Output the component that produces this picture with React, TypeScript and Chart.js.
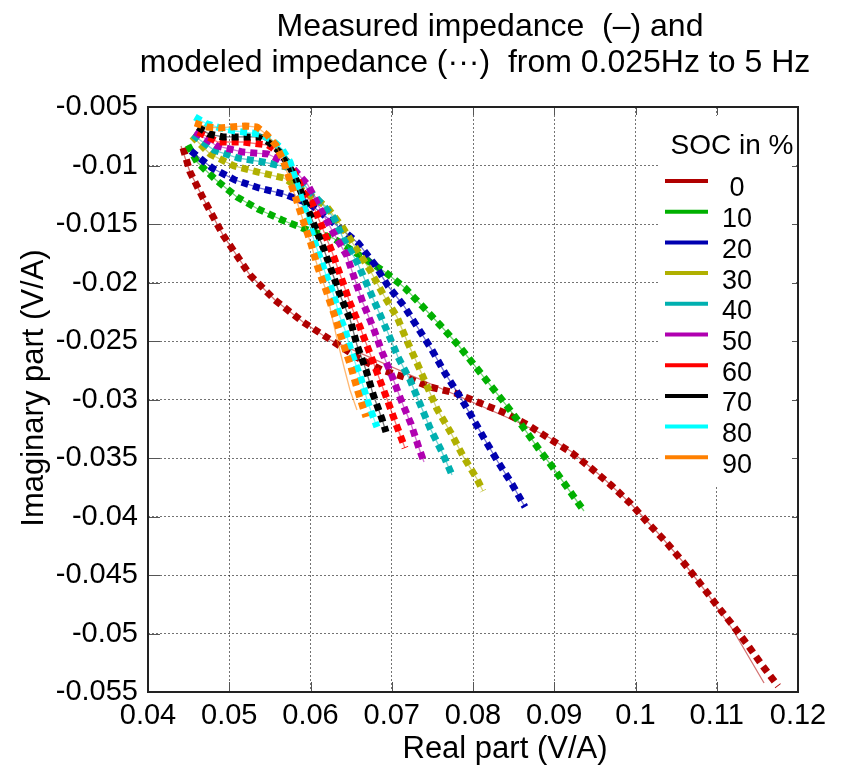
import React, { useEffect, useRef } from "react";
import { Chart, registerables } from "chart.js";

Chart.register(...registerables);

const FONT = '"Liberation Sans", Arial, sans-serif';

const titleLines = ["Measured impedance  (\u2013) and", "modeled impedance (\u00b7\u00b7\u00b7)  from 0.025Hz to 5 Hz"];
const xTitle = "Real part (V/A)";
const yTitle = "Imaginary part (V/A)";
const legendTitle = "SOC in %";

const socLabels = ["0", "10", "20", "30", "40", "50", "60", "70", "80", "90"];
const socColors = ["#B00000", "#00B000", "#0000B0", "#B0B000", "#00B0B0", "#B000B0", "#FF0000", "#000000", "#00FFFF", "#FF8000"];

const xTicks = [0.04, 0.05, 0.06, 0.07, 0.08, 0.09, 0.1, 0.11, 0.12];
const yTicks = [-0.055, -0.05, -0.045, -0.04, -0.035, -0.03, -0.025, -0.02, -0.015, -0.01, -0.005];

type P = [number, number];

const modeled0: P[] = [[0.04431,-0.00850],[0.04517,-0.01056],[0.04677,-0.01278],[0.04923,-0.01594],[0.05255,-0.01936],[0.05563,-0.02150],[0.05908,-0.02338],[0.06289,-0.02509],[0.06585,-0.02645],[0.06880,-0.02748],[0.07188,-0.02816],[0.07471,-0.02893],[0.07778,-0.02944],[0.08086,-0.03030],[0.08394,-0.03115],[0.08677,-0.03218],[0.08948,-0.03338],[0.09218,-0.03457],[0.09465,-0.03594],[0.09711,-0.03739],[0.09945,-0.03893],[0.10154,-0.04056],[0.10375,-0.04218],[0.10585,-0.04389],[0.10782,-0.04560],[0.10978,-0.04739],[0.11175,-0.04910],[0.11372,-0.05090],[0.11557,-0.05269],[0.11754,-0.05449]];
const measured0: P[] = [[0.04406,-0.00833],[0.04517,-0.01056],[0.04677,-0.01278],[0.04923,-0.01594],[0.05255,-0.01936],[0.05563,-0.02150],[0.05908,-0.02338],[0.06240,-0.02491],[0.08578,-0.03201],[0.08948,-0.03329],[0.09218,-0.03449],[0.09588,-0.03662],[0.09945,-0.03893],[0.10265,-0.04132],[0.10585,-0.04389],[0.10880,-0.04654],[0.11200,-0.04970],[0.11582,-0.05423]];
const modeled10: P[] = [[0.04492,-0.00825],[0.04603,-0.00970],[0.04837,-0.01124],[0.05095,-0.01269],[0.05354,-0.01372],[0.05649,-0.01466],[0.05932,-0.01543],[0.06277,-0.01620],[0.06486,-0.01714],[0.06708,-0.01816],[0.06917,-0.01910],[0.07163,-0.02047],[0.07385,-0.02209],[0.07606,-0.02372],[0.07828,-0.02543],[0.08025,-0.02714],[0.08222,-0.02885],[0.08418,-0.03056],[0.08615,-0.03235],[0.08800,-0.03415],[0.08997,-0.03594],[0.09182,-0.03774],[0.09366,-0.03953]];
const modeled20: P[] = [[0.04529,-0.00876],[0.04788,-0.01021],[0.05071,-0.01124],[0.05366,-0.01192],[0.05674,-0.01244],[0.05994,-0.01329],[0.06302,-0.01500],[0.06585,-0.01662],[0.06794,-0.01850],[0.06954,-0.02030],[0.07151,-0.02201],[0.07323,-0.02389],[0.07495,-0.02577],[0.07655,-0.02774],[0.07828,-0.02962],[0.07988,-0.03150],[0.08148,-0.03346],[0.08308,-0.03534],[0.08480,-0.03722],[0.08640,-0.03919]];
const modeled30: P[] = [[0.04542,-0.00748],[0.04763,-0.00902],[0.05058,-0.01004],[0.05354,-0.01056],[0.05674,-0.01107],[0.05932,-0.01226],[0.06203,-0.01355],[0.06400,-0.01534],[0.06572,-0.01722],[0.06732,-0.01893],[0.06892,-0.02098],[0.07065,-0.02295],[0.07188,-0.02500],[0.07311,-0.02688],[0.07434,-0.02885],[0.07557,-0.03081],[0.07729,-0.03286],[0.07877,-0.03483],[0.08049,-0.03679],[0.08123,-0.03782]];
const modeled40: P[] = [[0.04554,-0.00739],[0.04812,-0.00868],[0.05108,-0.00936],[0.05415,-0.00970],[0.05711,-0.01013],[0.05957,-0.01192],[0.06154,-0.01338],[0.06289,-0.01449],[0.06400,-0.01620],[0.06572,-0.01825],[0.06671,-0.01979],[0.06831,-0.02235],[0.06954,-0.02432],[0.07077,-0.02637],[0.07225,-0.02833],[0.07348,-0.03038],[0.07471,-0.03244],[0.07618,-0.03449],[0.07742,-0.03645]];
const modeled50: P[] = [[0.04578,-0.00714],[0.04849,-0.00833],[0.05169,-0.00885],[0.05477,-0.00902],[0.05748,-0.00996],[0.05969,-0.01167],[0.06092,-0.01338],[0.06277,-0.01568],[0.06449,-0.01774],[0.06548,-0.01979],[0.06646,-0.02175],[0.06769,-0.02380],[0.06880,-0.02594],[0.07003,-0.02799],[0.07114,-0.03004],[0.07237,-0.03209],[0.07335,-0.03415],[0.07397,-0.03534]];
const modeled60: P[] = [[0.04615,-0.00714],[0.04862,-0.00799],[0.05169,-0.00799],[0.05477,-0.00825],[0.05625,-0.00893],[0.05748,-0.00996],[0.05834,-0.01107],[0.05908,-0.01226],[0.06018,-0.01321],[0.06142,-0.01526],[0.06265,-0.01739],[0.06388,-0.01979],[0.06486,-0.02175],[0.06609,-0.02380],[0.06720,-0.02585],[0.06831,-0.02791],[0.06942,-0.02996],[0.07052,-0.03209],[0.07163,-0.03415]];
const modeled70: P[] = [[0.04615,-0.00671],[0.04751,-0.00731],[0.04923,-0.00756],[0.05231,-0.00756],[0.05378,-0.00756],[0.05502,-0.00808],[0.05625,-0.00885],[0.05723,-0.00987],[0.05809,-0.01098],[0.05908,-0.01269],[0.06031,-0.01483],[0.06154,-0.01697],[0.06265,-0.01910],[0.06363,-0.02107],[0.06486,-0.02312],[0.06572,-0.02534],[0.06683,-0.02748],[0.06769,-0.02953],[0.06880,-0.03167],[0.06929,-0.03278]];
const modeled80: P[] = [[0.04578,-0.00585],[0.04726,-0.00645],[0.04886,-0.00679],[0.05071,-0.00705],[0.05378,-0.00731],[0.05526,-0.00782],[0.05649,-0.00859],[0.05748,-0.00970],[0.05834,-0.01167],[0.05932,-0.01380],[0.06055,-0.01662],[0.06178,-0.01910],[0.06277,-0.02090],[0.06363,-0.02295],[0.06425,-0.02406],[0.06511,-0.02611],[0.06622,-0.02825],[0.06708,-0.03030],[0.06818,-0.03235]];
const modeled90: P[] = [[0.04578,-0.00637],[0.04726,-0.00671],[0.04874,-0.00679],[0.05194,-0.00662],[0.05342,-0.00671],[0.05465,-0.00739],[0.05575,-0.00825],[0.05662,-0.00953],[0.05785,-0.01209],[0.05908,-0.01466],[0.06006,-0.01671],[0.06092,-0.01876],[0.06203,-0.02090],[0.06302,-0.02295],[0.06400,-0.02517],[0.06498,-0.02722],[0.06585,-0.02936],[0.06683,-0.03150]];
const measured90: P[] = [[0.04578,-0.00637],[0.04726,-0.00671],[0.04874,-0.00679],[0.05194,-0.00662],[0.05342,-0.00671],[0.05465,-0.00739],[0.05575,-0.00825],[0.05662,-0.00953],[0.05785,-0.01209],[0.05908,-0.01466],[0.06006,-0.01671],[0.06092,-0.01876],[0.06203,-0.02090],[0.06265,-0.02295],[0.06338,-0.02517],[0.06412,-0.02722],[0.06486,-0.02919],[0.06572,-0.03090]];

const modeledSeries: P[][] = [modeled0, modeled10, modeled20, modeled30, modeled40, modeled50, modeled60, modeled70, modeled80, modeled90];
const measuredSeries: P[][] = [measured0, modeled10, modeled20, modeled30, modeled40, modeled50, modeled60, modeled70, modeled80, measured90];

function hexToRgba(hex: string, a: number) {
  const n = parseInt(hex.slice(1), 16);
  return `rgba(${(n >> 16) & 255},${(n >> 8) & 255},${n & 255},${a})`;
}

const fmt = (v: number) => String(parseFloat(v.toFixed(4)));

const overlayPlugin = {
  id: "overlay",
  afterDraw(chart: any) {
    const { ctx, chartArea: a, scales } = chart;
    ctx.save();
    // legend box
    ctx.fillStyle = "#ffffff";
    ctx.fillRect(660, 116, 136, 370);
    ctx.fillStyle = "#000";
    ctx.textAlign = "center";
    ctx.textBaseline = "middle";
    ctx.font = `28px ${FONT}`;
    ctx.fillText(legendTitle, 732, 146);
    socLabels.forEach((lab, i) => {
      const y = 181 + i * 30.7;
      ctx.strokeStyle = socColors[i];
      ctx.lineWidth = 4;
      ctx.beginPath();
      ctx.moveTo(665, y);
      ctx.lineTo(708, y);
      ctx.stroke();
      ctx.fillStyle = "#000";
      ctx.font = `27px ${FONT}`;
      ctx.fillText(lab, 737, y + 8);
    });
    // inward ticks
    ctx.strokeStyle = "#555";
    ctx.lineWidth = 1;
    xTicks.forEach((v) => {
      const px = Math.round(scales.x.getPixelForValue(v)) + 0.5;
      ctx.beginPath();
      ctx.moveTo(px, a.bottom);
      ctx.lineTo(px, a.bottom - 10);
      ctx.moveTo(px, a.top);
      ctx.lineTo(px, a.top + 8);
      ctx.stroke();
    });
    yTicks.forEach((v) => {
      const py = Math.round(scales.y.getPixelForValue(v)) + 0.5;
      ctx.beginPath();
      ctx.moveTo(a.left, py);
      ctx.lineTo(a.left + 12, py);
      ctx.moveTo(a.right, py);
      ctx.lineTo(a.right - 6, py);
      ctx.stroke();
    });
    // frame
    ctx.strokeStyle = "#222";
    ctx.lineWidth = 2;
    ctx.strokeRect(a.left, a.top, a.right - a.left, a.bottom - a.top);
    // titles
    ctx.fillStyle = "#000";
    ctx.font = `32px ${FONT}`;
    ctx.fillText(titleLines[0], 490, 27);
    ctx.fillText(titleLines[1], 475, 63);
    ctx.font = `31px ${FONT}`;
    ctx.fillText(xTitle, 505, 749);
    ctx.translate(34, 388);
    ctx.rotate(-Math.PI / 2);
    ctx.fillText(yTitle, 0, 0);
    ctx.restore();
  },
};

export default function App() {
  const ref = useRef<HTMLCanvasElement>(null);
  useEffect(() => {
    document.body.style.margin = "0";
    const datasets: any[] = [];
    socLabels.forEach((lab, i) => {
      datasets.push({
        label: `measured ${lab}`,
        data: measuredSeries[i].map(([x, y]) => ({ x, y })),
        borderColor: hexToRgba(socColors[i], 0.55),
        borderWidth: 1.3,
        showLine: true,
        pointRadius: 0,
        order: 2 * (10 - i) + 1,
      });
      datasets.push({
        label: `modeled ${lab}`,
        data: modeledSeries[i].map(([x, y]) => ({ x, y })),
        borderColor: socColors[i],
        borderWidth: 7,
        borderDash: [7, 5],
        borderCapStyle: "butt",
        borderJoinStyle: "bevel",
        showLine: true,
        pointRadius: 0,
        order: 2 * (10 - i),
      });
    });
    const tickFont = { family: FONT, size: 29 };
    const chart = new Chart(ref.current as HTMLCanvasElement, {
      type: "scatter",
      data: { datasets },
      options: {
        animation: false,
        responsive: false,
        layout: { padding: { top: 107, right: 50, left: 0, bottom: 0 } },
        plugins: { legend: { display: false }, tooltip: { enabled: false }, title: { display: false } },
        scales: {
          x: {
            type: "linear",
            min: 0.04,
            max: 0.12,
            afterBuildTicks: (s: any) => { s.ticks = xTicks.map((v) => ({ value: v })); },
            afterFit: (s: any) => { s.height = 76; },
            ticks: { font: tickFont, color: "#000", padding: 7, callback: (v: any) => fmt(Number(v)), maxRotation: 0, autoSkip: false },
            grid: { color: "rgba(0,0,0,0.55)", lineWidth: 1, drawTicks: false },
            border: { display: false, dash: [2, 2] },
          },
          y: {
            type: "linear",
            min: -0.055,
            max: -0.005,
            afterBuildTicks: (s: any) => { s.ticks = yTicks.map((v) => ({ value: v })); },
            afterFit: (s: any) => { s.width = 148; },
            ticks: { font: tickFont, color: "#000", padding: 10, callback: (v: any) => fmt(Number(v)), autoSkip: false },
            grid: { color: "rgba(0,0,0,0.55)", lineWidth: 1, drawTicks: false },
            border: { display: false, dash: [2, 2] },
          },
        },
      },
      plugins: [overlayPlugin],
    } as any);
    return () => chart.destroy();
  }, []);
  return (
    <div style={{ width: 848, height: 768, background: "#fff" }}>
      <canvas ref={ref} width={848} height={768} style={{ display: "block" }} />
    </div>
  );
}
